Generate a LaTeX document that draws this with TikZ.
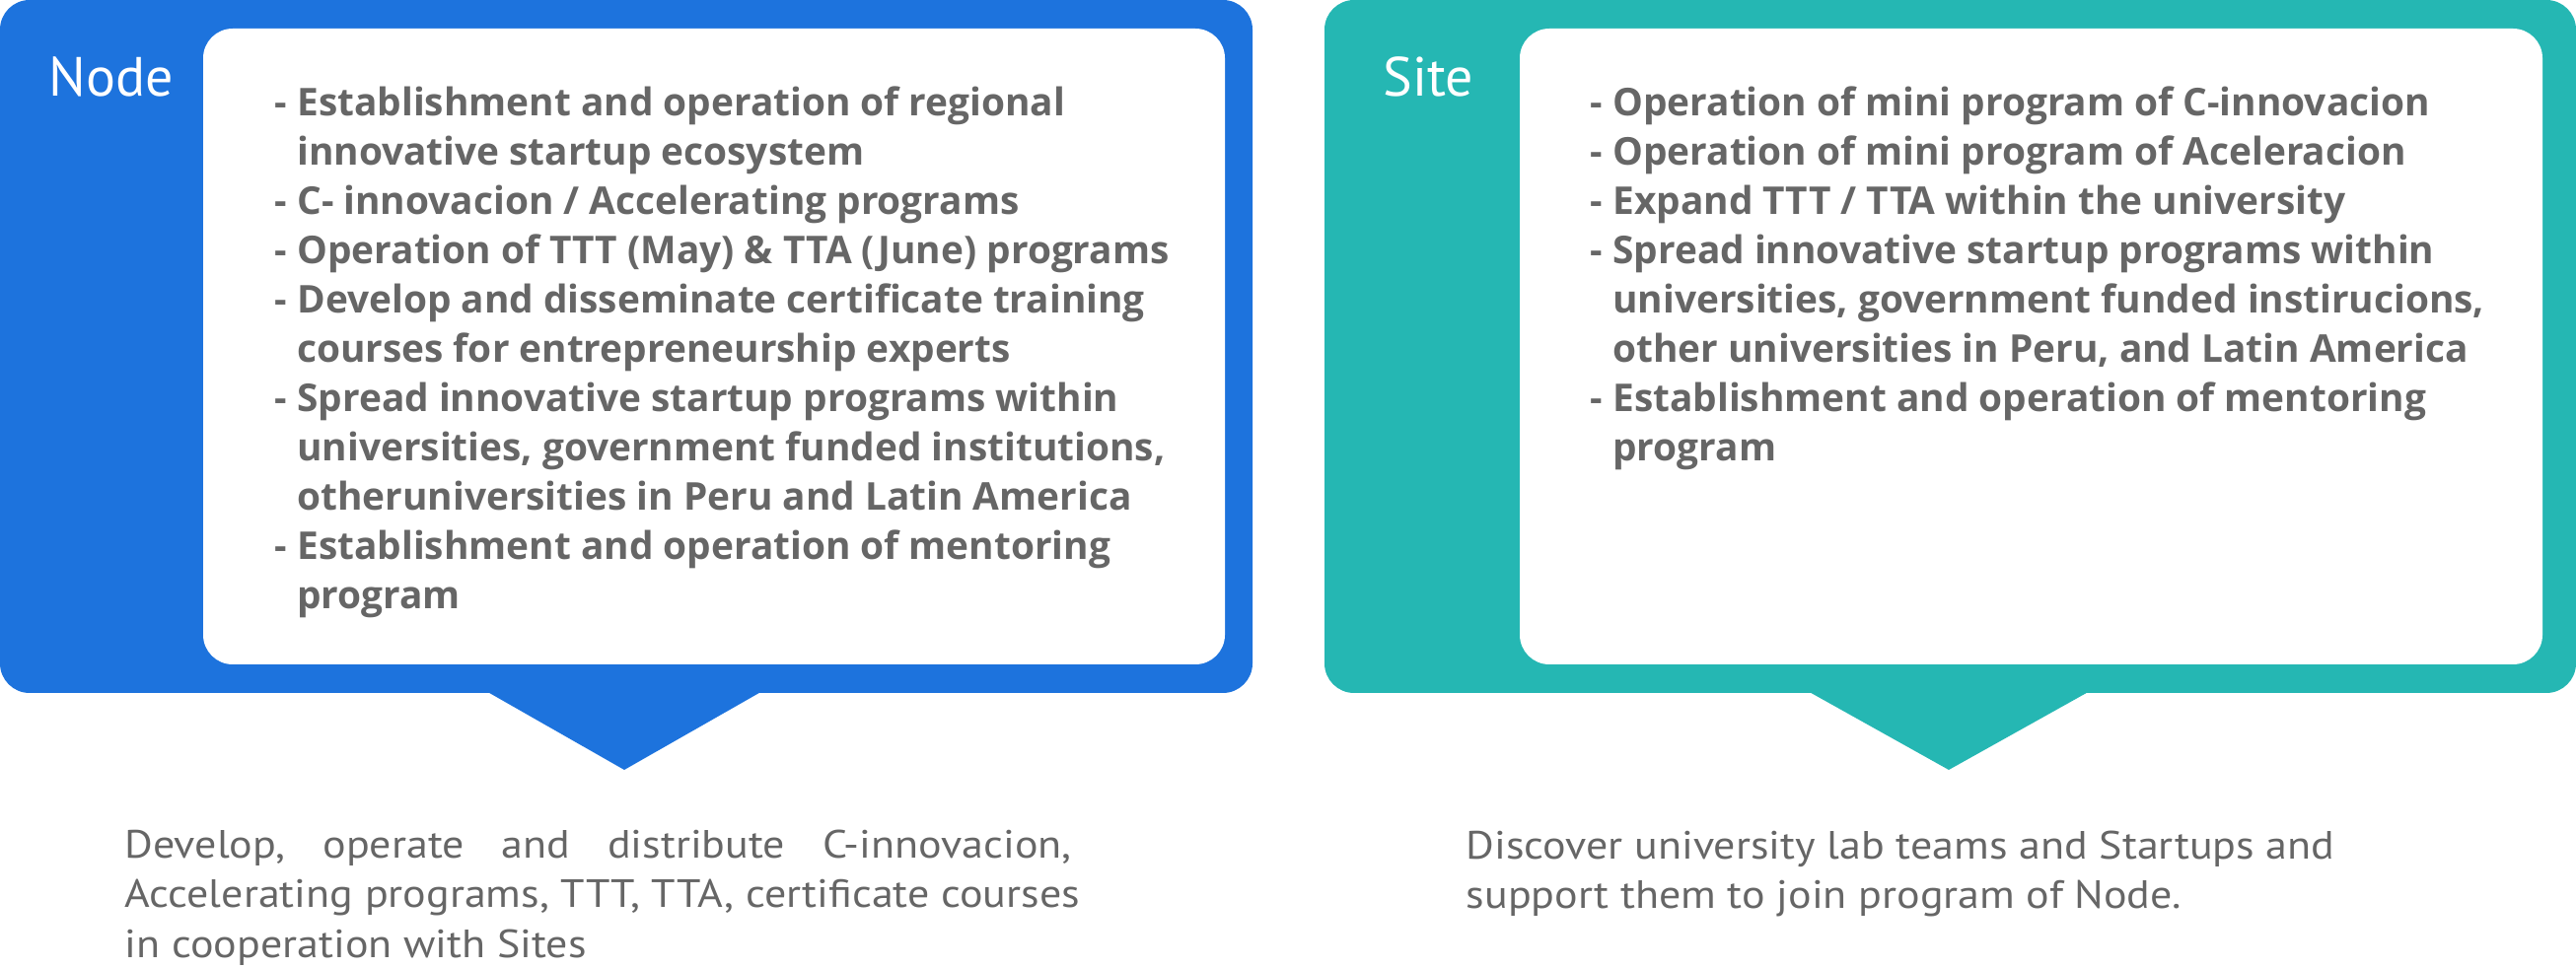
\documentclass[tikz,border=0pt]{standalone}
\usepackage{fontspec}
\setmainfont{PT Sans}
\newfontfamily\remarkfont{PT Sans}[FakeStretch=1.1]
\newfontfamily\itemfont{Open Sans}
\definecolor{nodeblue}{RGB}{29,115,221}
\definecolor{siteteal}{RGB}{37,183,179}
\definecolor{txtgray}{RGB}{102,102,102}
\newcommand{\hang}{\hphantom{- }}
\tikzset{
  panel/.style={fill=#1,rounded corners=7.5pt},
  card/.style={fill=white,rounded corners=7.5pt},
  title/.style={anchor=base west,inner sep=0,text=white,font=\fontsize{14}{16}\selectfont},
  items/.style={anchor=base west,inner sep=0,align=left,text=txtgray,font=\itemfont\bfseries\fontsize{9.7}{12.5}\selectfont},
  remark/.style={anchor=base west,inner sep=0,align=left,text=txtgray,font=\remarkfont\fontsize{10}{12.5}\selectfont}
}
\begin{document}
\begin{tikzpicture}[x=0.25pt,y=-0.25pt]
    \useasboundingbox (0,0) rectangle (2612,982);
    \fill[panel=nodeblue](0,0) rectangle (1270,703);
    \fill[nodeblue](491,700)--(633,781)--(775,700)--cycle;
    \fill[card](206,29) rectangle (1242,674);
    \node[title] (nodetitle) at (49,98) {Node};
    \node[items] (nodeitems) at (278,618) {- Establishment and operation of regional\\
        \hang innovative startup ecosystem\\
        - C- innovacion / Accelerating programs\\
        - Operation of TTT (May) \& TTA (June) programs\\
        - Develop and disseminate certificate training\\
        \hang courses for entrepreneurship experts\\
        - Spread innovative startup programs within\\
        \hang universities, government funded institutions,\\
        \hang otheruniversities in Peru and Latin America\\
        - Establishment and operation of mentoring\\
        \hang program};
    \node[remark] (noderemark) at (126,971) {\hbox to 240pt{Develop,\hfil operate\hfil and\hfil distribute\hfil C-innovacion,}\\
        Accelerating programs, TTT, TTA, certificate courses\\
        in cooperation with Sites};
    \fill[panel=siteteal](1343,0) rectangle (2612,703);
    \fill[siteteal](1831,700)--(1976,781)--(2121,700)--cycle;
    \fill[card](1541,29) rectangle (2578,674);
    \node[title] (sitetitle) at (1402,98) {Site};
    \node[items] (siteitems) at (1612,468) {- Operation of mini program of C-innovacion\\
        - Operation of mini program of Aceleracion\\
        - Expand TTT / TTA within the university\\
        - Spread innovative startup programs within\\
        \hang universities, government funded instirucions,\\
        \hang other universities in Peru, and Latin America\\
        - Establishment and operation of mentoring\\
        \hang program};
    \node[remark] (siteremark) at (1486,921) {Discover university lab teams and Startups and\\
        support them to join program of Node.};
\end{tikzpicture}
\end{document}
